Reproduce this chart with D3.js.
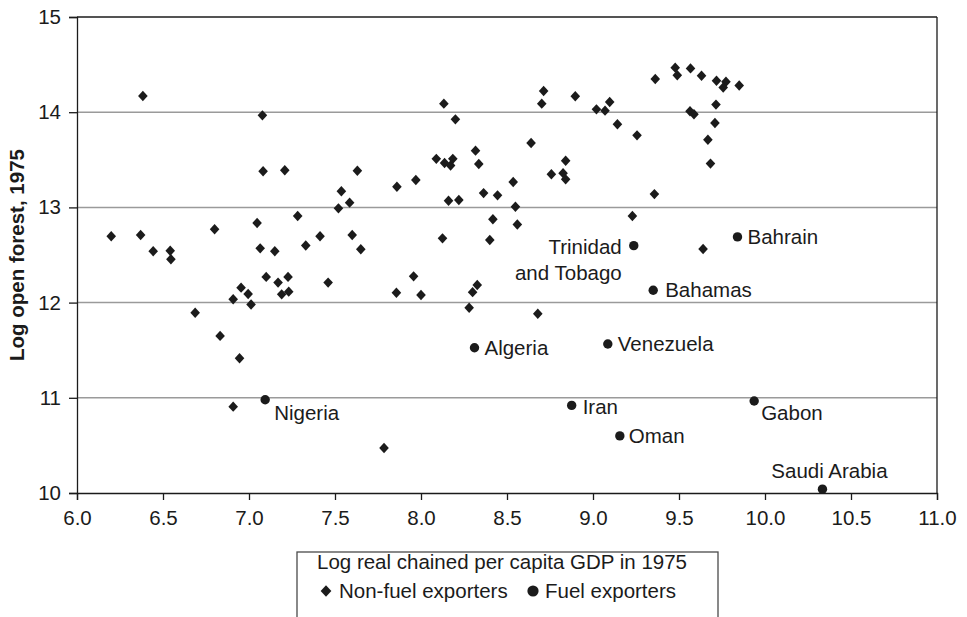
<!DOCTYPE html>
<html>
<head>
<meta charset="utf-8">
<script src="https://cdn.jsdelivr.net/npm/d3@7"></script>
<style>
  body { margin: 0; background: #fff; }
  svg { display: block; font-family: "Liberation Sans", Arial, Helvetica, sans-serif; }
</style>
</head>
<body>
<svg id="chart" width="967" height="617"></svg>
<script>
// Non-fuel exporters: [log GDP per capita 1975, log open forest 1975]
const nonFuelGdp = [
  6.383, 7.078, 7.082, 7.208, 7.630, 7.537, 7.585, 7.520, 7.283, 7.047,
  6.800, 6.199, 6.370, 6.443, 6.542, 6.546, 7.065, 7.150, 7.330, 7.413,
  7.600, 7.650, 7.100, 7.169, 7.227, 7.190, 7.231, 7.460, 6.954, 6.995,
  6.908, 7.012, 6.687, 6.832, 6.945, 6.908,
  8.133, 8.200, 8.089, 8.137, 8.172, 8.185, 8.317, 8.336, 7.860, 7.970,
  8.160, 8.220, 8.364, 8.445, 8.536, 8.549, 8.418, 8.560, 8.125, 8.400,
  8.640, 8.713, 8.702, 8.897, 9.020, 9.070, 9.097, 9.142, 9.256, 9.362,
  8.758, 8.826, 8.841, 8.841, 9.357, 9.229,
  7.857, 7.957, 8.000, 8.300, 8.327, 8.280, 8.679, 7.785,
  9.478, 9.490, 9.567, 9.631, 9.718, 9.773, 9.757, 9.850, 9.715, 9.564,
  9.587, 9.709, 9.668, 9.683, 9.640
];
const nonFuelForest = [
  14.170, 13.967, 13.380, 13.390, 13.385, 13.170, 13.050, 12.990, 12.910, 12.836,
  12.770, 12.697, 12.710, 12.540, 12.545, 12.455, 12.570, 12.540, 12.600, 12.697,
  12.710, 12.560, 12.270, 12.210, 12.270, 12.087, 12.115, 12.210, 12.157, 12.090,
  12.035, 11.980, 11.894, 11.650, 11.415, 10.907,
  14.090, 13.925, 13.510, 13.466, 13.440, 13.510, 13.596, 13.456, 13.217, 13.288,
  13.070, 13.078, 13.150, 13.127, 13.267, 13.007, 12.875, 12.820, 12.675, 12.657,
  13.676, 14.223, 14.090, 14.167, 14.030, 14.016, 14.107, 13.873, 13.757, 14.349,
  13.348, 13.360, 13.490, 13.295, 13.140, 12.910,
  12.104, 12.276, 12.080, 12.110, 12.185, 11.946, 11.883, 10.473,
  14.468, 14.388, 14.460, 14.383, 14.330, 14.320, 14.260, 14.280, 14.080, 14.010,
  13.978, 13.887, 13.710, 13.460, 12.563
];

// Fuel exporters
const fuelNames  = ["Nigeria", "Algeria", "Venezuela", "Iran", "Oman",
                    "Trinidad and Tobago", "Bahamas", "Bahrain", "Gabon", "Saudi Arabia"];
const fuelGdp    = [7.094, 8.311, 9.086, 8.876, 9.156, 9.237, 9.350, 9.840, 9.937, 10.334];
const fuelForest = [10.980, 11.526, 11.565, 10.920, 10.600, 12.598, 12.130, 12.690, 10.966, 10.040];

// Axis ticks
const xTickValues = [6.0, 6.5, 7.0, 7.5, 8.0, 8.5, 9.0, 9.5, 10.0, 10.5, 11.0];
const yTickValues = [10, 11, 12, 13, 14, 15];

// Text
const yTitle = "Log open forest, 1975";
const legendTitle = "Log real chained per capita GDP in 1975";
const legendNonFuel = "Non-fuel exporters";
const legendFuel = "Fuel exporters";

// Label placement for each fuel exporter (offsets from the point, in px)
const labelPlacement = {
  "Nigeria":             { dx: 9,   dy: 13,  anchor: "start" },
  "Algeria":             { dx: 10,  dy: 0,   anchor: "start" },
  "Venezuela":           { dx: 10,  dy: 0,   anchor: "start" },
  "Iran":                { dx: 11,  dy: 1,   anchor: "start" },
  "Oman":                { dx: 9,   dy: 0,   anchor: "start" },
  "Trinidad and Tobago": { dx: -12, dy: 1,   anchor: "end", lines: ["Trinidad", "and Tobago"], lineGap: 26.5 },
  "Bahamas":             { dx: 12,  dy: 0,   anchor: "start" },
  "Bahrain":             { dx: 10,  dy: 0,   anchor: "start" },
  "Gabon":               { dx: 7,   dy: 12,  anchor: "start" },
  "Saudi Arabia":        { dx: 7,   dy: -18, anchor: "middle" }
};

const W = 967, H = 617;
const margin = { top: 17, right: 30, bottom: 124, left: 77 };
const innerW = W - margin.left - margin.right;
const innerH = H - margin.top - margin.bottom;
const FONT = 20.5;
const INK = "#1b1b1b";

const svg = d3.select("#chart");
const g = svg.append("g").attr("transform", `translate(${margin.left},${margin.top})`);

const x = d3.scaleLinear().domain([6, 11]).range([0, innerW]);
const y = d3.scaleLinear().domain([10, 15]).range([innerH, 0]);

// Horizontal gridlines
g.append("g")
  .selectAll("line")
  .data(yTickValues.filter(v => v > 10 && v < 15))
  .join("line")
  .attr("x1", 0).attr("x2", innerW)
  .attr("y1", d => y(d)).attr("y2", d => y(d))
  .attr("stroke", "#9a9a9a").attr("stroke-width", 1.5);

// Top and right frame lines
g.append("line").attr("x1", 0).attr("x2", innerW).attr("y1", 0).attr("y2", 0)
  .attr("stroke", INK).attr("stroke-width", 1.3);
g.append("line").attr("x1", innerW).attr("x2", innerW).attr("y1", 0).attr("y2", innerH)
  .attr("stroke", INK).attr("stroke-width", 1.3);

// Axes
const xAxis = g.append("g")
  .attr("transform", `translate(0,${innerH})`)
  .call(d3.axisBottom(x).tickValues(xTickValues).tickFormat(d3.format(".1f"))
        .tickSize(7).tickPadding(10));
const yAxis = g.append("g")
  .call(d3.axisLeft(y).tickValues(yTickValues).tickFormat(d3.format("d"))
        .tickSize(8).tickPadding(8));

[xAxis, yAxis].forEach(a => {
  a.select(".domain").attr("stroke", INK).attr("stroke-width", 1.3);
  a.selectAll(".tick line").attr("stroke", INK).attr("stroke-width", 1.3);
  a.selectAll(".tick text")
    .attr("fill", INK)
    .style("font-size", FONT + "px")
    .style("font-family", "'Liberation Sans', Arial, sans-serif");
});

// Y axis title
svg.append("text")
  .attr("transform", `translate(23.5,${margin.top + innerH / 2}) rotate(-90)`)
  .attr("text-anchor", "middle")
  .attr("fill", INK)
  .style("font-size", FONT + "px")
  .style("font-weight", "bold")
  .text(yTitle);

// Marker shapes
const diamondPath = r => `M0,${-r * 1.08}L${r},0L0,${r * 1.08}L${-r},0Z`;

const nonFuel = nonFuelGdp.map((v, i) => ({ gdp: v, forest: nonFuelForest[i] }));
const fuel = fuelGdp.map((v, i) => ({ name: fuelNames[i], gdp: v, forest: fuelForest[i] }));

g.append("g")
  .selectAll("path")
  .data(nonFuel)
  .join("path")
  .attr("d", diamondPath(4.8))
  .attr("transform", d => `translate(${x(d.gdp)},${y(d.forest)})`)
  .attr("fill", INK);

g.append("g")
  .selectAll("circle")
  .data(fuel)
  .join("circle")
  .attr("cx", d => x(d.gdp))
  .attr("cy", d => y(d.forest))
  .attr("r", 4.7)
  .attr("fill", INK);

// Country labels for fuel exporters
const labels = g.append("g")
  .style("font-size", FONT + "px")
  .attr("fill", INK);

fuel.forEach(d => {
  const p = labelPlacement[d.name];
  const lines = p.lines || [d.name];
  const gap = p.lineGap || 0;
  const t = labels.append("text")
    .attr("text-anchor", p.anchor);
  lines.forEach((line, k) => {
    t.append("tspan")
      .attr("x", x(d.gdp) + p.dx)
      .attr("y", y(d.forest) + p.dy + k * gap)
      .attr("dy", "0.35em")
      .text(line);
  });
});

// Legend box below the chart
const legend = svg.append("g");
const lgLeft = 297, lgRight = 718, lgTop = 552;
legend.append("rect")
  .attr("x", lgLeft).attr("y", lgTop)
  .attr("width", lgRight - lgLeft).attr("height", H - lgTop + 10)
  .attr("fill", "#fff")
  .attr("stroke", "#4a4a4a").attr("stroke-width", 1.3);

legend.append("text")
  .attr("x", 502).attr("y", 562)
  .attr("dy", "0.35em")
  .attr("text-anchor", "middle")
  .attr("fill", INK)
  .style("font-size", FONT + "px")
  .text(legendTitle);

const rowY = 591;
legend.append("path")
  .attr("d", diamondPath(5.4))
  .attr("transform", `translate(326,${rowY})`)
  .attr("fill", INK);
legend.append("text")
  .attr("x", 339).attr("y", rowY).attr("dy", "0.35em")
  .attr("fill", INK).style("font-size", FONT + "px")
  .text(legendNonFuel);
legend.append("circle")
  .attr("cx", 533).attr("cy", rowY).attr("r", 5.6)
  .attr("fill", INK);
legend.append("text")
  .attr("x", 545).attr("y", rowY).attr("dy", "0.35em")
  .attr("fill", INK).style("font-size", FONT + "px")
  .text(legendFuel);
</script>
</body>
</html>
